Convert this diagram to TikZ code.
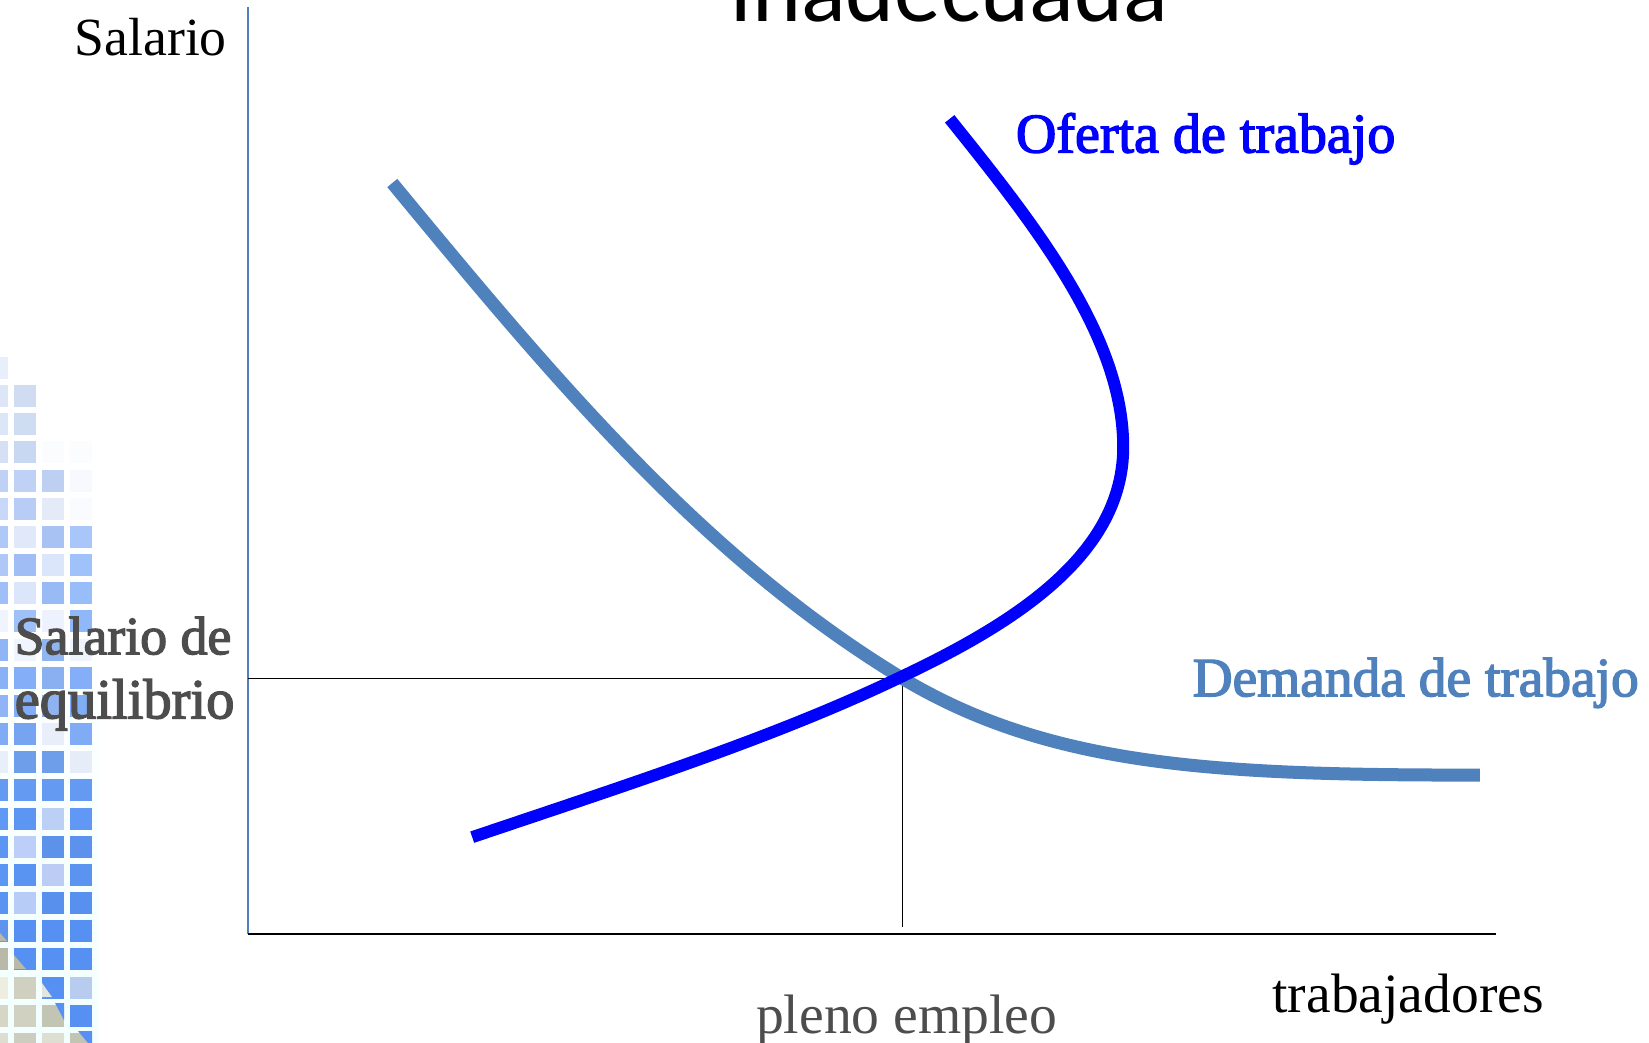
\documentclass[tikz,border=0pt]{standalone}
\usepackage{fontspec}
\setmainfont{Liberation Serif}
\newfontfamily\titlefont{Carlito}
\definecolor{demandblue}{HTML}{4F81BD}
\definecolor{supplyblue}{HTML}{0000FF}
\definecolor{labgray}{HTML}{4D4D4D}
\definecolor{tilegrey}{HTML}{B8B9A8}
\definecolor{tilepale}{HTML}{E1E4E1}
\definecolor{tileblue}{HTML}{5590F2}
\tikzset{
  lab/.style={anchor=base west,inner sep=0pt,outer sep=0pt},
  curvesupply/.style={draw=supplyblue,line width=12pt},
  curvedemand/.style={draw=demandblue,line width=13pt},
  guide/.style={draw=black,line width=1.6pt}
}
\newcommand{\szlab}[1]{\fontsize{#1}{#1}\selectfont}
\begin{document}
\begin{tikzpicture}[x=1pt,y=-1pt]
\useasboundingbox (0,0) rectangle (1649,1043);
\fill[white] (0,0) rectangle (1649,1043);
% mosaic backdrop
\shade[top color=white,bottom color=white!95!cyan] (0,620) rectangle (98,1043);
\foreach \k/\ca/\cb/\cc/\cd in {
 -1/E8EEFA/FFFFFF/FFFFFF/FFFFFF,
 0/DDE6F6/D0DCF2/FFFFFF/FFFFFF,
 1/DDE6F6/CFDDF3/FFFFFF/FFFFFF,
 2/D5E0F5/C8D8F2/FBFCFE/FBFCFE,
 3/BFD2F5/BFD2F5/BDD0F2/F7F9FE,
 4/C8D8F8/B8CDF5/E4EAF8/FAFBFE,
 5/B0C8F8/E0E8FA/A8C2F4/A8C6FA,
 6/B0C8F8/A0BDF5/DCE6FA/A0C2FA,
 7/A0BEF8/DCE6FA/98BAF5/98BEFA,
 8/F0F4FF/9FC0F8/EEF2FE/90B8F8,
 9/90B5F5/F0F4FF/90B5F0/F0F4FF,
 10/8AB0F6/85AEF8/8AB0F2/85AEF8,
 11/90B4F5/82ACF5/90B2F0/80AEF5,
 12/80ACF5/76A4F0/E8EEFA/80ACF5,
 13/E8EEFA/6E9EEA/6E9EEA/E6ECF8,
 14/659AF2/659AF2/659AF2/659AF2,
 15/6098F5/5C96F2/BCD0F5/6298F5,
 16/5C96F2/BDCFF8/5C92EA/5C92EE,
 17/5C96F5/5A94F2/BCCCF5/5A94F0,
 18/5A94F2/B8CCF8/5890EE/5890F0,
 19/5E94F0/5590F2/5590F2/5590F2,
 20/B8B9A8/5590F2/5590F2/5590F2,
 21/EDEEE0/CFD0BF/5590F2/B8CCF0,
 22/D5D6C6/D0D1C1/C2C4B4/5590F2,
 23/DDDDD0/CCCDBE/DEDFD2/C2C4B4}{
  \pgfmathsetmacro{\ty}{385+28.17*\k}
  \definecolor{ma}{HTML}{\ca}\definecolor{mb}{HTML}{\cb}
  \definecolor{mc}{HTML}{\cc}\definecolor{md}{HTML}{\cd}
  \fill[ma] (0,\ty) rectangle (8,\ty+22);
  \fill[mb] (14,\ty) rectangle (36,\ty+22);
  \fill[mc] (42,\ty) rectangle (64,\ty+22);
  \fill[md] (70,\ty) rectangle (92,\ty+22);
}
\fill[tilegrey] (0,933) -- (0,941) -- (7,941) -- cycle;
\fill[tilegrey] (14,955) -- (14,969) -- (26,969) -- cycle;
\fill[tilepale] (42,983) -- (42,997) -- (52,997) -- cycle;
\fill[tileblue] (55,1003) -- (64,1003) -- (64,1020) -- cycle;
\fill[tileblue] (78,1031) -- (92,1031) -- (92,1043) -- (88,1043) -- cycle;
\begin{scope}[x=1.0517pt,y=-1.0517pt]
% named points
\coordinate (org) at (236,888);
\coordinate (ytop) at (236,7);
\coordinate (xend) at (1422,888);
\coordinate (eq) at (858,645);
\coordinate (eqy) at (236,645);
\coordinate (eqx) at (858,881);
\draw[draw=demandblue,line width=1.6pt] (ytop) -- (org);
\draw[draw=black,line width=2pt] (org) -- (xend);
\draw[guide] (eqy) -- (eq);
\draw[guide] (eq) -- (eqx);
% curves
\draw[curvedemand] (373,174) .. controls (525,358) and (668,530) .. (858,645)
  .. controls (1000,730) and (1160,737) .. (1407,737);
\draw[curvesupply] (449,796) .. controls (600,745) and (740,700) .. (858,643)
  .. controls (970,590) and (1068,525) .. (1068,425)
  .. controls (1068,320) and (985,215) .. (903,113);
% labels
\node[lab] (title) at (695,20) {\titlefont\szlab{93.2}inadecuada};
\node[lab] (salario) at (71,53) {\szlab{53.7}Salario};
\node[lab,text=supplyblue] (oferta) at (966,145) {\szlab{56}\addfontfeature{FakeBold=2.5}Oferta de trabajo};
\node[lab,text=demandblue] (demanda) at (1134,662) {\szlab{55.4}\addfontfeature{FakeBold=2.5}Demanda de trabajo};
\node[lab,text=labgray] (salde) at (14,622) {\szlab{53.8}\addfontfeature{FakeBold=2.5}Salario de};
\node[lab,text=labgray] (equil) at (14,683) {\szlab{56.5}\addfontfeature{FakeBold=2.5}equilibrio};
\node[lab,text=labgray] (pleno) at (719,983) {\szlab{55.6}pleno empleo};
\node[lab] (trab) at (1210,963) {\szlab{55.5}trabajadores};
\end{scope}
\end{tikzpicture}
\end{document}
